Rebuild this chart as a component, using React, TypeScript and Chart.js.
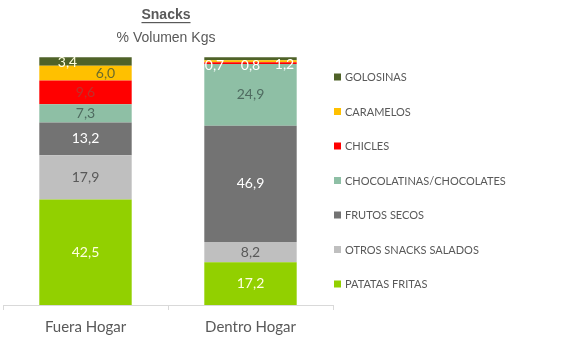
import React, { useEffect, useRef } from "react";
import { Chart, registerables } from "chart.js";

Chart.register(...registerables);

const categories = ["Fuera Hogar", "Dentro Hogar"];
const seriesNames = [
  "PATATAS FRITAS",
  "OTROS SNACKS SALADOS",
  "FRUTOS SECOS",
  "CHOCOLATINAS/CHOCOLATES",
  "CHICLES",
  "CARAMELOS",
  "GOLOSINAS",
];
const patatasFritas = [42.5, 17.2];
const otrosSnacks = [17.9, 8.2];
const frutosSecos = [13.2, 46.9];
const chocolatinas = [7.3, 24.9];
const chicles = [9.6, 0.7];
const caramelos = [6.0, 0.8];
const golosinas = [3.4, 1.2];
const seriesValues = [patatasFritas, otrosSnacks, frutosSecos, chocolatinas, chicles, caramelos, golosinas];

const title = "Snacks";
const subtitle = "% Volumen Kgs";

const colors = ["#92D000", "#BFBFBF", "#737373", "#8EBFA5", "#FF0000", "#FFC000", "#4F6228"];
// label colours per series, per category
const labelColors = [
  ["#FFFFE0", "#FFFFE0"],
  ["#595959", "#595959"],
  ["#FFFFFF", "#FFFFFF"],
  ["#4F6B60", "#4F6B60"],
  ["#C0302A", "#FFFFFF"],
  ["#6B6B2A", "#FFFFFF"],
  ["#FFFFE0", "#FFFFFF"],
];
// manual label offsets [dx, dy] per series per category
const labelOffsets: number[][][] = [
  [[0, 0], [0, 0]],
  [[0, 0], [0, 0]],
  [[0, 0], [0, 0]],
  [[0, 0], [0, 0]],
  [[0, 0], [-36, 2]],
  [[20, 0], [0, 4]],
  [[-18, 1], [34, 6]],
];

const FONT = "Lato, 'Open Sans', sans-serif";

export default function App() {
  const ref = useRef<HTMLCanvasElement | null>(null);
  useEffect(() => {
    if (!ref.current) return;
    const labelPlugin = {
      id: "labelsAndDecor",
      afterDatasetsDraw(chart: any) {
        const ctx = chart.ctx;
        ctx.save();
        ctx.font = `14px ${FONT}`;
        ctx.textAlign = "center";
        ctx.textBaseline = "middle";
        chart.data.datasets.forEach((ds: any, di: number) => {
          const meta = chart.getDatasetMeta(di);
          meta.data.forEach((bar: any, i: number) => {
            const v = ds.data[i];
            const yc = (bar.y + bar.base) / 2;
            const off = labelOffsets[di][i];
            ctx.fillStyle = labelColors[di][i];
            ctx.fillText(v.toFixed(1).replace(".", ","), bar.x + off[0], yc + off[1]);
          });
        });
        ctx.restore();
      },
      afterDraw(chart: any) {
        const ctx = chart.ctx;
        ctx.save();
        const cx = 166;
        ctx.textAlign = "center";
        ctx.textBaseline = "middle";
        ctx.fillStyle = "#595959";
        ctx.font = "bold 14px 'Liberation Sans', Arial, sans-serif";
        ctx.fillText(title, cx, 15);
        const w = ctx.measureText(title).width;
        ctx.fillRect(cx - w / 2, 22, w, 1.2);
        ctx.font = "14px 'Liberation Sans', Arial, sans-serif";
        ctx.fillText(subtitle, cx, 38);
        ctx.font = `11px ${FONT}`;
        ctx.textAlign = "left";
        for (let k = 0; k < seriesNames.length; k++) {
          const si = seriesNames.length - 1 - k;
          const y = 77 + k * 34.5;
          ctx.fillStyle = colors[si];
          ctx.fillRect(334, y - 3.5, 7, 7);
          ctx.fillStyle = "#595959";
          ctx.fillText(seriesNames[si], 345, y + 0.5);
        }
        ctx.restore();
      },
    };
    const chart = new Chart(ref.current, {
      type: "bar",
      data: {
        labels: categories,
        datasets: seriesNames.map((n, i) => ({
          label: n,
          data: seriesValues[i],
          backgroundColor: colors[i],
          borderWidth: 0,
          categoryPercentage: 1,
          barPercentage: 0.56,
        })),
      },
      options: {
        animation: false,
        responsive: false,
        maintainAspectRatio: false,
        layout: { padding: { top: 57, left: 3, right: 254, bottom: 7 } },
        plugins: { legend: { display: false }, tooltip: { enabled: false }, title: { display: false } },
        scales: {
          x: {
            stacked: true,
            offset: true,
            grid: { offset: true, drawOnChartArea: false, tickLength: 5, color: "#D9D9D9" },
            border: { color: "#D9D9D9" },
            ticks: { color: "#595959", font: { family: FONT, size: 15 }, padding: 8 },
          },
          y: { stacked: true, display: false, min: 0, max: 100 },
        },
      },
      plugins: [labelPlugin],
    });
    return () => chart.destroy();
  }, []);
  return (
    <div style={{ position: "fixed", left: 0, top: 0, width: 587, height: 351, background: "#fff" }}>
      <canvas ref={ref} width={587} height={351} style={{ width: 587, height: 351 }} />
    </div>
  );
}
